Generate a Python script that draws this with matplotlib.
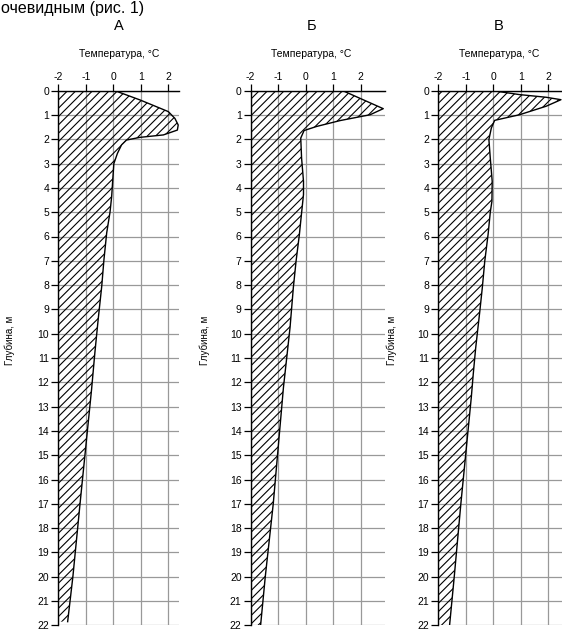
import matplotlib
matplotlib.use("Agg")
import matplotlib.pyplot as plt

plt.rcParams['font.family'] = ['Liberation Sans', 'DejaVu Sans']
plt.rcParams['axes.unicode_minus'] = False
plt.rcParams['hatch.linewidth'] = 0.8

# profile A: depth (m) vs temperature (degC)
depth_a = [0, 0.38, 0.86, 1.14, 1.41, 1.62, 1.82, 1.92, 2.03, 2.23, 2.58, 3.0, 3.67, 4.36,
           5.0, 5.85, 6.95, 8.04, 9.41, 10.78, 12.29, 17, 20, 21.85]
temp_a = [0.06, 0.97, 2.0, 2.24, 2.36, 2.33, 1.82, 0.97, 0.48, 0.30, 0.15, 0.02, -0.02, -0.06,
          -0.12, -0.24, -0.34, -0.42, -0.55, -0.67, -0.79, -1.21, -1.47, -1.66]

# profile B
depth_b = [0, 0.74, 0.99, 1.23, 1.47, 1.64, 1.95, 2.77, 3.73, 4.27, 5.03, 5.92, 7.01, 8.11,
           9.75, 10.99, 12.22, 17, 20, 22]
temp_b = [1.35, 2.82, 2.34, 1.25, 0.40, -0.06, -0.18, -0.15, -0.08, -0.08, -0.15, -0.23, -0.35,
          -0.45, -0.57, -0.69, -0.81, -1.18, -1.47, -1.64]

# profile C
depth_c = [0, 0.16, 0.27, 0.37, 0.64, 0.99, 1.22, 1.53, 2.01, 2.77, 3.73, 4.55, 5.0, 5.92,
           7.01, 8.11, 9.07, 10.58, 11.67, 12.62, 17, 20, 22]
temp_c = [-0.01, 0.95, 1.92, 2.46, 1.92, 0.95, 0.05, -0.07, -0.16, -0.11, -0.04, -0.05, -0.11,
          -0.19, -0.31, -0.40, -0.49, -0.64, -0.73, -0.80, -1.18, -1.42, -1.59]

panels = [("А", depth_a, temp_a, 2.4), ("Б", depth_b, temp_b, 2.9), ("В", depth_c, temp_c, 2.5)]
lefts = [58.3, 250.7, 438.3]
W, H = 562, 631
unit = 27.5
top, bottom = 90.7, 625.3

fig = plt.figure(figsize=(W / 100, H / 100), dpi=100)

fig.text(1 / W, 1 - 1 / H, "очевидным (рис. 1)", fontsize=11.5, va='top', ha='left')

for (name, d, t, xmax), left in zip(panels, lefts):
    w = (xmax + 2) * unit
    ax = fig.add_axes([left / W, 1 - bottom / H, w / W, (bottom - top) / H])
    ax.fill_betweenx(d, -2, t, facecolor='none', edgecolor='black', hatch='////', linewidth=0)
    ax.plot(t, d, color='black', lw=1.0)
    ax.set_xlim(-2, xmax)
    ax.set_ylim(22, 0)
    ax.set_xticks([-2, -1, 0, 1, 2])
    ax.set_yticks(range(0, 23))
    ax.xaxis.tick_top()
    ax.tick_params(axis='both', labelsize=7.5, length=5, width=0.9, pad=1.5, colors='black')
    ax.grid(True, color='#999999', lw=0.9)
    ax.set_axisbelow(True)
    for s in ['right', 'bottom']:
        ax.spines[s].set_visible(False)
    for s in ['left', 'top']:
        ax.spines[s].set_linewidth(1.0)
    cx = (left + left + 4.4 * unit) / 2
    fig.text(cx / W, 1 - 26 / H, name, fontsize=10.5, ha='center', va='center')
    fig.text(cx / W, 1 - 54 / H, "Температура, °С", fontsize=7.5, ha='center', va='center')

for x in [10, 205, 392]:
    fig.text(x / W, 1 - 340 / H, "Глубина, м", fontsize=7, rotation=90, ha='center', va='center')

fig.savefig("out.png", dpi=100)
